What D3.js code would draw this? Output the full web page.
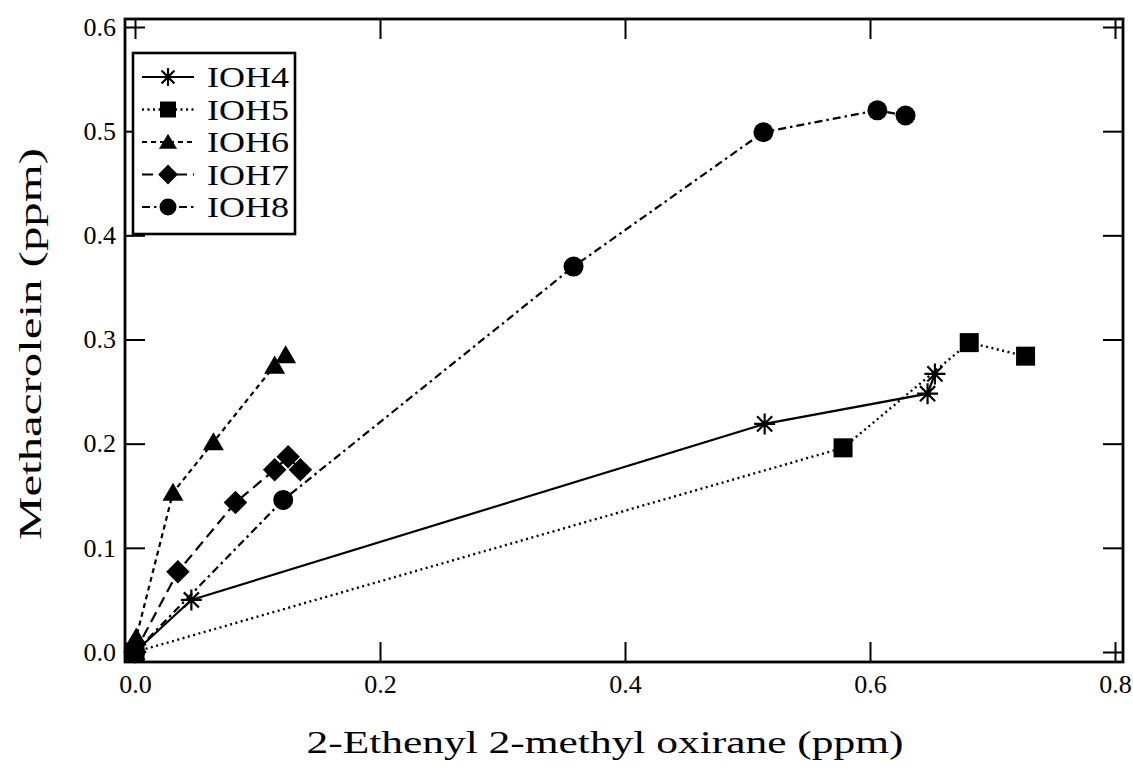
<!DOCTYPE html>
<html>
<head>
<meta charset="utf-8">
<script src="https://cdn.jsdelivr.net/npm/d3@7"></script>
<style>
  html, body { margin: 0; padding: 0; background: #fff; }
  svg { display: block; }
  svg text { font-family: "Times New Roman", "Liberation Serif", Times, serif !important; fill: #000; }
</style>
</head>
<body>
<svg id="chart" width="1133" height="770"></svg>
<script>
// ---- data ----
const seriesNames = ["IOH4", "IOH5", "IOH6", "IOH7", "IOH8"];
const ioh4X = [0, 0.046, 0.514, 0.647, 0.653];
const ioh4Y = [0, 0.050, 0.219, 0.248, 0.267];
const ioh5X = [0, 0.578, 0.681, 0.727];
const ioh5Y = [0, 0.196, 0.297, 0.284];
const ioh6X = [0, 0.001, 0.031, 0.064, 0.114, 0.123];
const ioh6Y = [0, 0.014, 0.153, 0.2015, 0.275, 0.285];
const ioh7X = [0, 0.035, 0.082, 0.114, 0.125, 0.135];
const ioh7Y = [0, 0.077, 0.1435, 0.175, 0.1875, 0.175];
const ioh8X = [0, 0.121, 0.358, 0.513, 0.606, 0.629];
const ioh8Y = [0, 0.146, 0.370, 0.499, 0.520, 0.515];
const xTickValues = [0, 0.2, 0.4, 0.6, 0.8];
const yTickValues = [0, 0.1, 0.2, 0.3, 0.4, 0.5, 0.6];
const xTitle = "2-Ethenyl 2-methyl oxirane (ppm)";
const yTitle = "Methacrolein (ppm)";

// ---- layout ----
const frame = { left: 125, right: 1123, top: 19, bottom: 662 };
const x = d3.scaleLinear().domain([0, 0.8]).range([135, 1115]);
const y = d3.scaleLinear().domain([0, 0.6]).range([652, 27]);

const svg = d3.select("#chart");

const series = [
  { name: seriesNames[0], xs: ioh4X, ys: ioh4Y, marker: "asterisk", dash: null, w: 2.2 },
  { name: seriesNames[1], xs: ioh5X, ys: ioh5Y, marker: "square", dash: "2,3.5", w: 2.4 },
  { name: seriesNames[2], xs: ioh6X, ys: ioh6Y, marker: "triangle", dash: "5,4", w: 2.2 },
  { name: seriesNames[3], xs: ioh7X, ys: ioh7Y, marker: "diamond", dash: "11,6", w: 2.2 },
  { name: seriesNames[4], xs: ioh8X, ys: ioh8Y, marker: "circle", dash: "8,4,2.5,4", w: 2.2 }
];

// axes ticks
const fmt = d3.format(".1f");
const gB = svg.append("g").attr("transform", `translate(0,${frame.bottom})`)
  .call(d3.axisBottom(x).tickValues(xTickValues).tickSize(-20).tickPadding(13).tickFormat(fmt));
const gT = svg.append("g").attr("transform", `translate(0,${frame.top})`)
  .call(d3.axisTop(x).tickValues(xTickValues).tickSize(-20).tickFormat(""));
const gL = svg.append("g").attr("transform", `translate(${frame.left},0)`)
  .call(d3.axisLeft(y).tickValues(yTickValues).tickSize(-20).tickPadding(9).tickFormat(fmt));
const gR = svg.append("g").attr("transform", `translate(${frame.right},0)`)
  .call(d3.axisRight(y).tickValues(yTickValues).tickSize(-20).tickFormat(""));
[gB, gT, gL, gR].forEach(g => {
  g.attr("font-family", null).attr("font-size", null);
  g.select(".domain").remove();
  g.selectAll(".tick line").attr("stroke", "#000").attr("stroke-width", 2);
  g.selectAll(".tick text").attr("font-size", 26).attr("fill", "#000");
});

// frame
svg.append("rect")
  .attr("x", frame.left).attr("y", frame.top)
  .attr("width", frame.right - frame.left).attr("height", frame.bottom - frame.top)
  .attr("fill", "none").attr("stroke", "#000").attr("stroke-width", 2.8);

// titles
svg.append("text")
  .attr("x", 605).attr("y", 753).attr("text-anchor", "middle")
  .attr("font-size", 32).attr("textLength", 597).attr("lengthAdjust", "spacingAndGlyphs")
  .text(xTitle);
svg.append("text")
  .attr("transform", "translate(41,344) rotate(-90)").attr("text-anchor", "middle")
  .attr("font-size", 32).attr("textLength", 392).attr("lengthAdjust", "spacingAndGlyphs")
  .text(yTitle);

// marker drawing
function drawMarker(g, type, cx, cy, s) {
  if (type === "square") {
    g.append("rect").attr("x", cx - s / 2).attr("y", cy - s / 2).attr("width", s).attr("height", s).attr("fill", "#000");
  } else if (type === "circle") {
    g.append("circle").attr("cx", cx).attr("cy", cy).attr("r", s / 2 + 0.5).attr("fill", "#000");
  } else if (type === "triangle") {
    const h = s * 0.95;
    g.append("path").attr("d", `M${cx},${cy - h * 0.55} L${cx + s / 2 + 1},${cy + h * 0.45} L${cx - s / 2 - 1},${cy + h * 0.45} Z`).attr("fill", "#000");
  } else if (type === "diamond") {
    const r = s * 0.62;
    g.append("path").attr("d", `M${cx},${cy - r} L${cx + r},${cy} L${cx},${cy + r} L${cx - r},${cy} Z`).attr("fill", "#000");
  } else if (type === "asterisk") {
    const r = s / 2 + 1;
    const d = r * 0.72;
    g.append("path")
      .attr("d", `M${cx},${cy - r} L${cx},${cy + r} M${cx - r},${cy} L${cx + r},${cy} M${cx - d},${cy - d} L${cx + d},${cy + d} M${cx - d},${cy + d} L${cx + d},${cy - d}`)
      .attr("stroke", "#000").attr("stroke-width", 2.2).attr("fill", "none");
  }
}

// data lines and markers
const line = d3.line().x(d => x(d[0])).y(d => y(d[1]));
series.forEach(s => {
  const pts = s.xs.map((v, i) => [v, s.ys[i]]);
  const g = svg.append("g");
  g.append("path").datum(pts).attr("d", line)
    .attr("fill", "none").attr("stroke", "#000").attr("stroke-width", s.w)
    .attr("stroke-dasharray", s.dash);
  pts.forEach(p => drawMarker(g, s.marker, x(p[0]), y(p[1]), 19));
});

// legend
const legend = { x: 133, y: 53, w: 162, h: 181 };
svg.append("rect").attr("x", legend.x).attr("y", legend.y).attr("width", legend.w).attr("height", legend.h)
  .attr("fill", "#fff").attr("stroke", "#000").attr("stroke-width", 2.6);
const rowY = d3.scaleLinear().domain([0, 4]).range([77, 207]);
series.forEach((s, i) => {
  const yy = rowY(i);
  const g = svg.append("g");
  g.append("line").attr("x1", 142).attr("x2", 194).attr("y1", yy).attr("y2", yy)
    .attr("stroke", "#000").attr("stroke-width", s.w).attr("stroke-dasharray", s.dash);
  drawMarker(g, s.marker, 168, yy, 16);
  g.append("text").attr("x", 207).attr("y", yy + 10).attr("font-size", 30)
    .attr("textLength", 82).attr("lengthAdjust", "spacingAndGlyphs").text(s.name);
});
</script>
</body>
</html>
